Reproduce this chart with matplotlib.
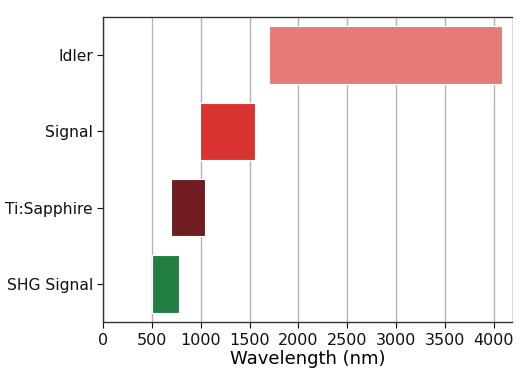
import matplotlib
matplotlib.use("Agg")
import matplotlib.pyplot as plt

plt.rcParams["font.family"] = ["DejaVu Sans"]

labels = ["SHG Signal", "Ti:Sapphire", "Signal", "Idler"]
starts = [500, 690, 990, 1700]
ends = [780, 1040, 1550, 4085]
colors = ["#218041", "#701c20", "#d9332f", "#e57a78"]
xticks = [0, 500, 1000, 1500, 2000, 2500, 3000, 3500, 4000]

fig = plt.figure(figsize=(5.32, 3.83), dpi=100)
ax = fig.add_axes([0.194, 0.159, 0.768, 0.797])
ax.set_facecolor("white")

widths = [e - s for s, e in zip(starts, ends)]
ax.barh(range(len(labels)), widths, left=starts, height=0.75,
        color=colors, edgecolor="#ffffff", linewidth=0.8, zorder=3)

ax.set_yticks(range(len(labels)))
ax.set_yticklabels(labels, fontsize=11.2)
ax.set_xticks(xticks)
ax.set_xticklabels([str(t) for t in xticks], fontsize=11.5)
ax.set_xlim(0, 4185)
ax.set_ylim(-0.5, 3.5)
ax.set_xlabel("Wavelength (nm)", fontsize=13, labelpad=2)
ax.grid(axis="x", color="#b4b4b4", linewidth=1.0, zorder=0)
ax.set_axisbelow(True)
for s in ["left", "bottom", "top"]:
    ax.spines[s].set_color("#333333")
    ax.spines[s].set_linewidth(1.0)
ax.spines["right"].set_color("#dddddd")
ax.tick_params(colors="#111111", length=4)

fig.savefig("out.png", dpi=100, facecolor="white")
